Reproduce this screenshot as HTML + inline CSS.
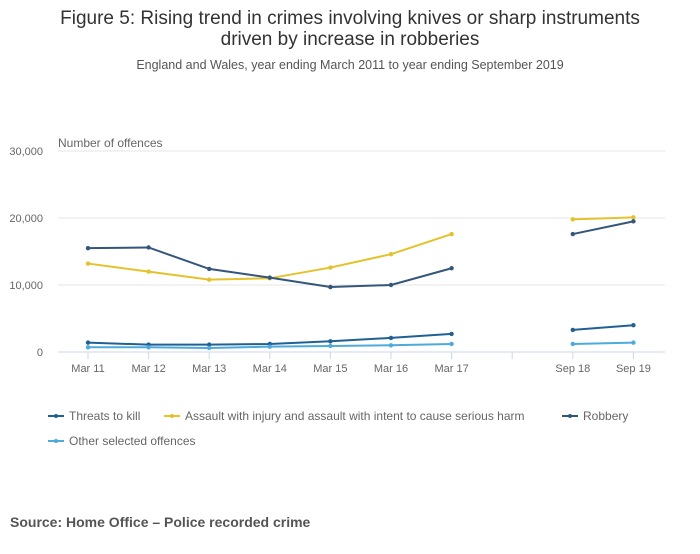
<!DOCTYPE html>
<html><head><meta charset="utf-8"><style>
body{margin:0;background:#fff;font-family:"Liberation Sans","DejaVu Sans",sans-serif;}
svg text{font-family:"Liberation Sans","DejaVu Sans",sans-serif;}
</style></head><body>
<svg width="700" height="549">
<rect width="700" height="549" fill="#fff"/>
<text x="350" y="24" text-anchor="middle" font-size="19" fill="#333">Figure 5: Rising trend in crimes involving knives or sharp instruments</text>
<text x="350" y="45" text-anchor="middle" font-size="19" fill="#333">driven by increase in robberies</text>
<text x="350" y="69" text-anchor="middle" font-size="12.5" fill="#555">England and Wales, year ending March 2011 to year ending September 2019</text>
<text x="58" y="147" font-size="12" fill="#666">Number of offences</text>
<g id="grid"></g><g id="xaxis"></g><g id="series"></g><g id="legend"></g>
<text x="10" y="527" font-size="14" font-weight="bold" fill="#555">Source: Home Office – Police recorded crime</text>
</svg>
<script>
const categories=["Mar 11","Mar 12","Mar 13","Mar 14","Mar 15","Mar 16","Mar 17","","Sep 18","Sep 19"];
const threats=[1400,1100,1100,1200,1600,2100,2700,null,3300,4000];
const assault=[13200,12000,10800,11000,12600,14600,17600,null,19800,20100];
const robbery=[15500,15600,12400,11100,9700,10000,12500,null,17600,19500];
const other=[700,700,600,800,900,1000,1200,null,1200,1400];
const yTicks=[0,10000,20000,30000];
const yTickLabels=["0","10,000","20,000","30,000"];
const seriesNames=["Threats to kill","Assault with injury and assault with intent to cause serious harm","Robbery","Other selected offences"];
const NS="http://www.w3.org/2000/svg";
const x=i=>88+i*60.6;
const y=v=>352-v*67/10000;
function mk(t,a,p){const e=document.createElementNS(NS,t);for(const k in a)e.setAttribute(k,a[k]);p.appendChild(e);return e;}
const grid=document.getElementById('grid');
yTicks.forEach((v,i)=>{
 const l=mk('line',{x1:58,x2:665,y1:y(v),y2:y(v),stroke:i===0?'#ccd6eb':'#e6e6e6','stroke-width':1},grid);
 
 
 const t=mk('text',{x:43,y:y(v)+4,'text-anchor':'end','font-size':11,fill:'#666'},grid);
 t.textContent=yTickLabels[i];
 
 
});
const xa=document.getElementById('xaxis');
categories.forEach((c,i)=>{
 const l=mk('line',{x1:x(i),x2:x(i),y1:352,y2:359,stroke:'#ccd6eb'},xa);
 
 
 if(c){const t=mk('text',{x:x(i),y:372,'text-anchor':'middle','font-size':11,fill:'#666'},xa);
 t.textContent=c;
 
 }
});
const colors=["#206095","#e3c22b","#34567a","#4eaadb"];
const data=[threats,assault,robbery,other];
const sg=document.getElementById('series');
data.forEach((d,s)=>{
 let segs=[],cur=[];
 d.forEach((v,i)=>{if(v===null){if(cur.length)segs.push(cur);cur=[];}else cur.push([x(i),y(v)]);});
 if(cur.length)segs.push(cur);
 segs.forEach(seg=>{
  const p=mk('polyline',{points:seg.map(q=>q.join(',')).join(' '),fill:'none',stroke:colors[s],'stroke-width':2},sg);
  
  
  seg.forEach(q=>{const c=mk('circle',{cx:q[0],cy:q[1],r:2.2,fill:colors[s]},sg);
   
   });
 });
});
const lg=document.getElementById('legend');
const lpos=[[48,420],[164,420],[562,420],[48,445]];
seriesNames.forEach((n,s)=>{
 const [lx,ly]=lpos[s];
 const l=mk('line',{x1:lx,x2:lx+16,y1:ly-4,y2:ly-4,stroke:colors[s],'stroke-width':2},lg);
 
 
 mk('circle',{cx:lx+8,cy:ly-4,r:2,fill:colors[s]},lg);
 const t=mk('text',{x:lx+21,y:ly,'font-size':12,fill:'#666'},lg);
 t.textContent=n;
 
 
});
</script>
</body></html>
